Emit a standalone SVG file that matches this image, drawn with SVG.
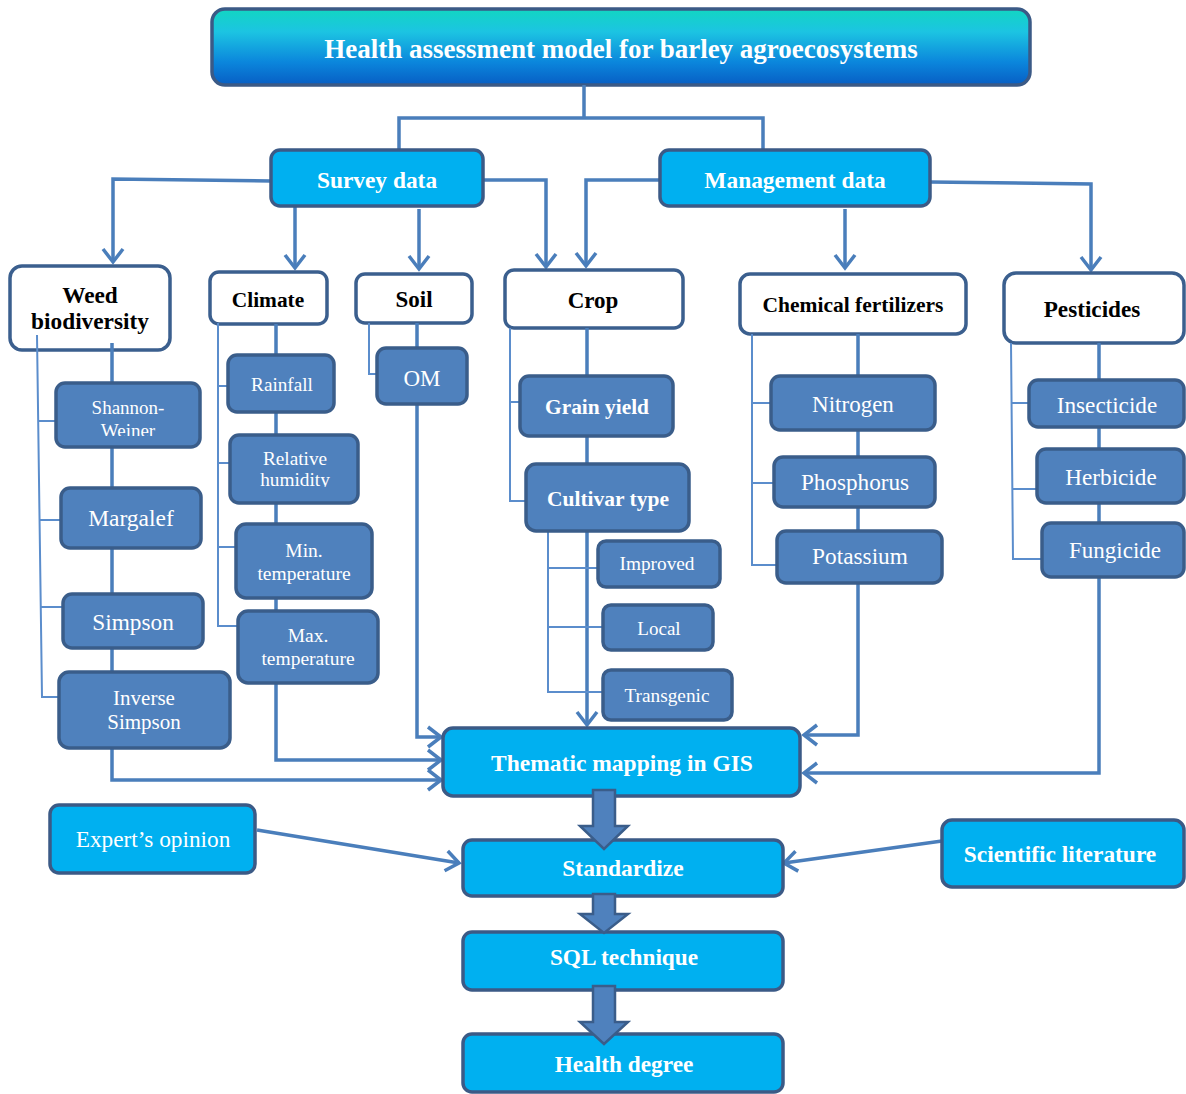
<svg xmlns="http://www.w3.org/2000/svg" width="1186" height="1094" viewBox="0 0 1186 1094">
<defs>
<linearGradient id="titleGrad" x1="0" y1="0" x2="0" y2="1">
<stop offset="0" stop-color="#12d6c2"/>
<stop offset="0.3" stop-color="#1cc4e2"/>
<stop offset="0.7" stop-color="#0b86dc"/>
<stop offset="1" stop-color="#075ec4"/>
</linearGradient>
<marker id="ah" markerUnits="userSpaceOnUse" markerWidth="18" markerHeight="24" viewBox="0 0 18 24" refX="15" refY="12" orient="auto">
<path d="M2,2 L15,12 L2,22" fill="none" stroke="#4a7ebb" stroke-width="3.5"/>
</marker>
<clipPath id="clipSW"><rect x="50" y="380" width="160" height="56"/></clipPath>
<clipPath id="clipRH"><rect x="225" y="430" width="140" height="57"/></clipPath>
</defs>
<style>
.t{font-family:"Liberation Serif","Times New Roman",serif;text-anchor:middle}
.b{font-weight:bold}
.w{fill:#ffffff}
.k{fill:#000000}
.title{fill:url(#titleGrad);stroke:#3b5a86;stroke-width:3.5}
.lb{fill:#00b0f0;stroke:#3b5a86;stroke-width:3.5}
.wb{fill:#ffffff;stroke:#3b5f8e;stroke-width:3.5}
.mb{fill:#4f81bd;stroke:#3a5d8a;stroke-width:3.5}
.c{fill:none;stroke:#4a7ebb;stroke-width:3.5}
.ca{fill:none;stroke:#4a7ebb;stroke-width:3.5;marker-end:url(#ah)}
.thin{fill:none;stroke:#5b8dcc;stroke-width:2}
.blk{fill:#4f81bd;stroke:#3a5d8a;stroke-width:2.5;stroke-linejoin:miter}
</style>
<rect width="1186" height="1094" fill="#ffffff"/>

<g id="title">
<rect class="title" x="212" y="9" width="818" height="76" rx="13"/>
<text class="t b w" x="621" y="58" font-size="27">Health assessment model for barley agroecosystems</text>
</g>

<g id="connectors-top">
<path class="c" d="M584,85 V118 M399,150 V118 H763 V150"/>
<path class="ca" d="M271,181 L113,179 V262"/>
<path class="ca" d="M295,206 V268"/>
<path class="ca" d="M419,209 V269"/>
<path class="ca" d="M483,180 H546 V267"/>
<path class="ca" d="M660,180 H586 V266"/>
<path class="ca" d="M845,209 V268"/>
<path class="ca" d="M930,182 L1091,184 V270"/>
</g>

<g id="survey-data">
<rect class="lb" x="271" y="150" width="212" height="56" rx="9"/>
<text class="t b w" x="377" y="188" font-size="23.4">Survey data</text>
</g>
<g id="management-data">
<rect class="lb" x="660" y="150" width="270" height="56" rx="9"/>
<text class="t b w" x="795" y="188" font-size="23.4">Management data</text>
</g>

<g id="weed-biodiversity">
<rect class="wb" x="10" y="266" width="160" height="84" rx="12"/>
<text class="t b k" x="90" y="303" font-size="23.3">Weed</text>
<text class="t b k" x="90" y="329" font-size="23.3">biodiversity</text>
</g>
<g id="climate">
<rect class="wb" x="210" y="272" width="117" height="52" rx="9"/>
<text class="t b k" x="268" y="307" font-size="21.4">Climate</text>
</g>
<g id="soil">
<rect class="wb" x="356" y="274" width="116" height="49" rx="9"/>
<text class="t b k" x="414" y="307" font-size="23">Soil</text>
</g>
<g id="crop">
<rect class="wb" x="505" y="270" width="178" height="58" rx="9"/>
<text class="t b k" x="593" y="308" font-size="23">Crop</text>
</g>
<g id="chemical-fertilizers">
<rect class="wb" x="740" y="274" width="226" height="60" rx="10"/>
<text class="t b k" x="853" y="312" font-size="21.5">Chemical fertilizers</text>
</g>
<g id="pesticides">
<rect class="wb" x="1004" y="273" width="180" height="70" rx="12"/>
<text class="t b k" x="1092" y="317" font-size="23.2">Pesticides</text>
</g>

<g id="connectors">
<path class="ca" d="M112,343 V780 H441"/>
<path class="thin" d="M37,335 L42,697 H59 M38,421 H56 M40,520 H61 M41,607 H63"/>
<path class="ca" d="M276,324 V760 H441"/>
<path class="thin" d="M218,323 V626 H238 M218,386 H229 M218,463 H231 M218,547 H236"/>
<path class="c" d="M417,323 V348"/>
<path class="ca" d="M417,404 V737 H441"/>
<path class="thin" d="M369,323 V374 H377"/>
<path class="ca" d="M587,328 V725"/>
<path class="thin" d="M510,328 V501 H526 M510,402 H520"/>
<path class="thin" d="M548,531 V692 H603 M548,568 H598 M548,627 H603"/>
<path class="ca" d="M858,334 V735 H804"/>
<path class="thin" d="M752,334 V565 H777 M752,403 H771 M752,483 H774"/>
<path class="ca" d="M1099,343 V773 H804"/>
<path class="thin" d="M1011,343 L1013,559 H1042 M1012,403 H1029 M1012,489 H1037"/>
<path class="ca" d="M257,830 L459,863"/>
<path class="ca" d="M942,841 L784,863"/>
</g>

<g id="shannon-weiner">
<rect class="mb" x="56" y="383" width="144" height="64" rx="9"/>
<g clip-path="url(#clipSW)">
<text class="t w" x="128" y="414" font-size="19">Shannon-</text>
<text class="t w" x="128" y="437" font-size="19">Weiner</text>
</g>
</g>
<g id="margalef">
<rect class="mb" x="61" y="488" width="140" height="60" rx="9"/>
<text class="t w" x="131" y="526" font-size="23.5">Margalef</text>
</g>
<g id="simpson">
<rect class="mb" x="63" y="594" width="140" height="54" rx="9"/>
<text class="t w" x="133" y="630" font-size="23.3">Simpson</text>
</g>
<g id="inverse-simpson">
<rect class="mb" x="59" y="672" width="171" height="76" rx="10"/>
<text class="t w" x="144" y="705" font-size="21">Inverse</text>
<text class="t w" x="144" y="729" font-size="21">Simpson</text>
</g>

<g id="rainfall">
<rect class="mb" x="228" y="355" width="106" height="57" rx="9"/>
<text class="t w" x="282" y="391" font-size="19.2">Rainfall</text>
</g>
<g id="relative-humidity">
<rect class="mb" x="230" y="435" width="128" height="68" rx="9"/>
<g clip-path="url(#clipRH)">
<text class="t w" x="295" y="465" font-size="19.3">Relative</text>
<text class="t w" x="295" y="486" font-size="19.3">humidity</text>
</g>
</g>
<g id="min-temperature">
<rect class="mb" x="236" y="524" width="136" height="74" rx="10"/>
<text class="t w" x="304" y="557" font-size="19.5">Min.</text>
<text class="t w" x="304" y="580" font-size="19.5">temperature</text>
</g>
<g id="max-temperature">
<rect class="mb" x="238" y="611" width="140" height="72" rx="10"/>
<text class="t w" x="308" y="642" font-size="19.5">Max.</text>
<text class="t w" x="308" y="665" font-size="19.5">temperature</text>
</g>

<g id="om">
<rect class="mb" x="377" y="348" width="90" height="56" rx="9"/>
<text class="t w" x="422" y="386" font-size="23">OM</text>
</g>

<g id="grain-yield">
<rect class="mb" x="520" y="376" width="153" height="60" rx="9"/>
<text class="t b w" x="597" y="414" font-size="21.4">Grain yield</text>
</g>
<g id="cultivar-type">
<rect class="mb" x="526" y="464" width="163" height="67" rx="10"/>
<text class="t b w" x="608" y="506" font-size="21.5">Cultivar type</text>
</g>
<g id="improved">
<rect class="mb" x="598" y="541" width="122" height="46" rx="8"/>
<text class="t w" x="657" y="570" font-size="19.3">Improved</text>
</g>
<g id="local">
<rect class="mb" x="603" y="605" width="110" height="45" rx="8"/>
<text class="t w" x="659" y="635" font-size="19">Local</text>
</g>
<g id="transgenic">
<rect class="mb" x="603" y="670" width="129" height="50" rx="8"/>
<text class="t w" x="667" y="702" font-size="19.3">Transgenic</text>
</g>

<g id="nitrogen">
<rect class="mb" x="771" y="376" width="164" height="54" rx="9"/>
<text class="t w" x="853" y="412" font-size="23">Nitrogen</text>
</g>
<g id="phosphorus">
<rect class="mb" x="774" y="457" width="161" height="50" rx="9"/>
<text class="t w" x="855" y="490" font-size="23.2">Phosphorus</text>
</g>
<g id="potassium">
<rect class="mb" x="777" y="531" width="165" height="52" rx="9"/>
<text class="t w" x="860" y="564" font-size="23.3">Potassium</text>
</g>

<g id="insecticide">
<rect class="mb" x="1029" y="380" width="155" height="47" rx="9"/>
<text class="t w" x="1107" y="413" font-size="23.2">Insecticide</text>
</g>
<g id="herbicide">
<rect class="mb" x="1037" y="449" width="147" height="54" rx="9"/>
<text class="t w" x="1111" y="485" font-size="23.2">Herbicide</text>
</g>
<g id="fungicide">
<rect class="mb" x="1042" y="523" width="142" height="54" rx="9"/>
<text class="t w" x="1115" y="558" font-size="23">Fungicide</text>
</g>

<g id="thematic-mapping">
<rect class="lb" x="443" y="728" width="357" height="68" rx="10"/>
<text class="t b w" x="622" y="771" font-size="23.5">Thematic mapping in GIS</text>
</g>
<g id="experts-opinion">
<rect class="lb" x="50" y="805" width="205" height="68" rx="9"/>
<text class="t w" x="153" y="847" font-size="23.3">Expert’s opinion</text>
</g>
<g id="standardize">
<rect class="lb" x="463" y="840" width="320" height="56" rx="9"/>
<text class="t b w" x="623" y="876" font-size="23.5">Standardize</text>
</g>
<g id="scientific-literature">
<rect class="lb" x="942" y="820" width="242" height="67" rx="10"/>
<text class="t b w" x="1060" y="862" font-size="23.4">Scientific literature</text>
</g>
<g id="sql-technique">
<rect class="lb" x="463" y="932" width="320" height="58" rx="9"/>
<text class="t b w" x="624" y="965" font-size="23.3">SQL technique</text>
</g>
<g id="health-degree">
<rect class="lb" x="463" y="1034" width="320" height="58" rx="9"/>
<text class="t b w" x="624" y="1072" font-size="23.3">Health degree</text>
</g>

<g id="connectors-flow">
<polygon class="blk" points="593,790 615,790 615,826 628,826 604,849 580,826 593,826"/>
<polygon class="blk" points="593,894 615,894 615,914 628,914 604,933 580,914 593,914"/>
<polygon class="blk" points="593,986 615,986 615,1022 628,1022 604,1044 580,1022 593,1022"/>
</g>
</svg>
